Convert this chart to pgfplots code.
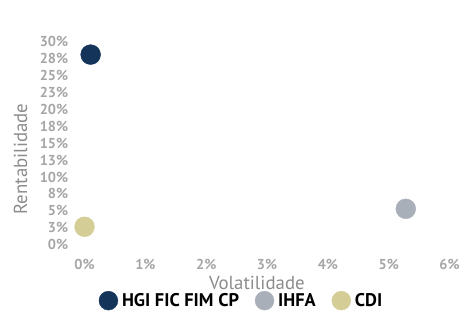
\documentclass[border=0pt]{standalone}
\usepackage{pgfplots}
\pgfplotsset{compat=1.18}
\usepackage{fontspec}
\setmainfont{PT Sans}
\definecolor{hgi}{HTML}{14345A}
\definecolor{ihfa}{HTML}{A9AFB9}
\definecolor{cdi}{HTML}{D4CE96}
\definecolor{tickgray}{HTML}{A6A6A6}
\definecolor{labgray}{HTML}{8C8C8C}
\begin{document}
\begin{tikzpicture}
\begin{axis}[
  scale only axis,
  width=367bp, height=214.2bp,
  xmin=0, xmax=6, ymin=-1.5, ymax=30,
  axis line style={draw=none},
  clip=false,
  major tick length=0pt,
  xtick={0,1,2,3,4,5,6},
  xticklabels={0\%,1\%,2\%,3\%,4\%,5\%,6\%},
  ytick={0,2.5,5,7.5,10,12.5,15,17.5,20,22.5,25,27.5,30},
  yticklabels={0\%,3\%,5\%,8\%,10\%,13\%,15\%,18\%,20\%,23\%,25\%,28\%,30\%},
  ticklabel style={font=\fontsize{14.5}{14.5}\selectfont\bfseries, text=tickgray},
  xticklabel style={yshift=-1bp},
  yticklabel style={xshift=-13bp},
  xlabel={Volatilidade},
  ylabel={Rentabilidade},
  label style={font=\fontsize{19}{19}\selectfont, text=labgray},
  xlabel style={at={(0.472,-0.13)}, anchor=center},
  ylabel style={at={(-0.175,0.45)}, anchor=center},
  legend columns=3,
  legend style={draw=none, fill=none, at={(0.43,-0.215)}, anchor=center,
    font=\fontsize{18.5}{18.5}\selectfont\bfseries, column sep=2bp,
    /tikz/every even column/.append style={column sep=14bp}},
  legend image code/.code={\fill[#1] (0.2cm,0) circle (9.5bp);},
]
\addplot[only marks, mark=*, mark size=10bp, draw=hgi, fill=hgi, color=hgi] coordinates {(0.1,28.1)};
\addlegendentry{HGI FIC FIM CP}
\addplot[only marks, mark=*, mark size=10bp, draw=ihfa, fill=ihfa, color=ihfa] coordinates {(5.28,5.3)};
\addlegendentry{IHFA}
\addplot[only marks, mark=*, mark size=10bp, draw=cdi, fill=cdi, color=cdi] coordinates {(0.0,2.65)};
\addlegendentry{CDI}
\end{axis}
\path[use as bounding box] (-85bp,-56.8bp) rectangle (378bp,256.2bp);
\end{tikzpicture}
\end{document}
